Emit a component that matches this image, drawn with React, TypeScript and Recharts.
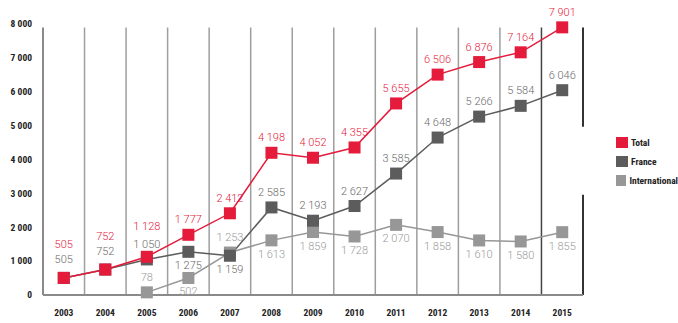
import React from 'react';
import { LineChart, Line, XAxis, YAxis, ReferenceLine, Legend } from 'recharts';

const years = ['2003', '2004', '2005', '2006', '2007', '2008', '2009', '2010', '2011', '2012', '2013', '2014', '2015'];
const totalValues = [505, 752, 1128, 1777, 2412, 4198, 4052, 4355, 5655, 6506, 6876, 7164, 7901];
const franceValues = [505, 752, 1050, 1275, 1159, 2585, 2193, 2627, 3585, 4648, 5266, 5584, 6046];
const internationalValues = [null, null, 78, 502, 1253, 1613, 1859, 1728, 2070, 1858, 1610, 1580, 1855];
const yTicks = [0, 1000, 2000, 3000, 4000, 5000, 6000, 7000, 8000];

const totalLabelSide = ['top', 'top', 'high', 'up', 'up', 'up', 'up', 'up', 'up', 'up', 'up', 'up', 'up'];
const franceLabelSide = ['mid', 'mid', 'up', 'down', 'down', 'up', 'up', 'up', 'up', 'up', 'up', 'up', 'up'];
const internationalLabelSide = [null, null, 'up', 'down', 'up', 'down', 'down', 'down', 'down', 'down', 'down', 'down', 'down'];

const RED = '#e41b3b';
const DARK = '#5c5c5c';
const LIGHT = '#979797';

const data = years.map((y, i) => ({
  x: i + 0.5,
  year: y,
  total: totalValues[i],
  france: franceValues[i],
  international: internationalValues[i],
}));

const fmt = (v: number) =>
  v >= 1000 ? `${Math.floor(v / 1000)} ${String(v % 1000).padStart(3, '0')}` : String(v);

const condensed = '"Liberation Sans Narrow", "Arial Narrow", "Roboto Condensed", sans-serif';
const labelFont = 'Roboto, "DejaVu Sans", sans-serif';

const sideOffset: Record<string, number> = { top: -33, high: -30, mid: -18.5, up: -15, down: 14 };

const makeDot = (color: string) => (props: any) => {
  const { cx, cy, value, index } = props;
  if (value == null || cx == null || cy == null) return <g key={`d${index}`} />;
  return <rect key={`d${index}`} x={cx - 6} y={cy - 6} width={12} height={12} fill={color} />;
};

const makeLabel = (color: string, sides: (string | null)[]) => (props: any) => {
  const { x, y, value, index } = props;
  if (value == null || x == null || y == null) return <g key={`l${index}`} />;
  const side = sides[index] || 'up';
  return (
    <text
      key={`l${index}`}
      x={x}
      y={y + sideOffset[side]}
      fill={color}
      fontSize={11}
      fontWeight={300}
      fontFamily={labelFont}
      textAnchor="middle"
      dominantBaseline="central"
    >
      {fmt(value)}
    </text>
  );
};

const legendItems = [
  { name: 'Total', color: RED },
  { name: 'France', color: DARK },
  { name: 'International', color: LIGHT },
];

const LegendContent = () => (
  <div style={{ fontFamily: condensed, fontWeight: 'bold', fontSize: 9.5, color: '#222' }}>
    {legendItems.map((it) => (
      <div key={it.name} style={{ display: 'flex', alignItems: 'center', height: 19 }}>
        <span style={{ width: 12, height: 11, background: it.color, display: 'inline-block', marginRight: 3 }} />
        <span>{it.name}</span>
      </div>
    ))}
  </div>
);

const gridXs = years.map((_, i) => i);

export default function App() {
  return (
    <div style={{ position: 'absolute', left: 0, top: 0, background: '#fff' }}>
      <LineChart width={678} height={323} data={data} margin={{ top: 24, right: 33, bottom: 0, left: 0 }}>
        <XAxis
          dataKey="x"
          type="number"
          domain={[0, years.length]}
          ticks={data.map((d) => d.x)}
          tickFormatter={(v: number) => years[Math.floor(v)]}
          height={28}
          tickSize={0}
          tickMargin={14}
          tickLine={false}
          axisLine={{ stroke: '#8a8a8a', strokeWidth: 2 }}
          tick={{ fill: '#222', fontSize: 9.5, fontWeight: 'bold', fontFamily: condensed }}
          interval={0}
        />
        <YAxis
          domain={[0, 8000]}
          ticks={yTicks}
          width={43}
          tickSize={0}
          tickMargin={11}
          axisLine={false}
          tickLine={false}
          tickFormatter={(v: number) => fmt(v)}
          tick={{ fill: '#222', fontSize: 9.5, fontWeight: 'bold', fontFamily: condensed }}
        />
        {gridXs.map((gx) => (
          <ReferenceLine
            key={`g${gx}`}
            segment={[{ x: gx, y: 0 }, { x: gx, y: 7900 }]}
            stroke={gx === 0 ? '#8a8a8a' : gx === years.length - 1 ? '#444' : '#9e9e9e'}
            strokeWidth={gx === 0 ? 2 : 1.5}
          />
        ))}
        <ReferenceLine segment={[{ x: years.length, y: 4970 }, { x: years.length, y: 7900 }]} stroke="#333" strokeWidth={2} />
        <ReferenceLine segment={[{ x: years.length, y: 0 }, { x: years.length, y: 2960 }]} stroke="#333" strokeWidth={2} />
        <Legend
          layout="vertical"
          verticalAlign="top"
          align="right"
          content={<LegendContent />}
          wrapperStyle={{ left: 616, top: 133, width: 62 }}
        />
        <Line
          dataKey="international"
          name="International"
          stroke={LIGHT}
          strokeWidth={1.5}
          dot={makeDot(LIGHT)}
          activeDot={false}
          label={makeLabel('#9a9a9a', internationalLabelSide)}
          isAnimationActive={false}
          connectNulls={false}
        />
        <Line
          dataKey="france"
          name="France"
          stroke={DARK}
          strokeWidth={1.5}
          dot={makeDot(DARK)}
          activeDot={false}
          label={makeLabel('#6a6a6a', franceLabelSide)}
          isAnimationActive={false}
        />
        <Line
          dataKey="total"
          name="Total"
          stroke={RED}
          strokeWidth={1.5}
          dot={makeDot(RED)}
          activeDot={false}
          label={makeLabel(RED, totalLabelSide)}
          isAnimationActive={false}
        />
      </LineChart>
    </div>
  );
}
